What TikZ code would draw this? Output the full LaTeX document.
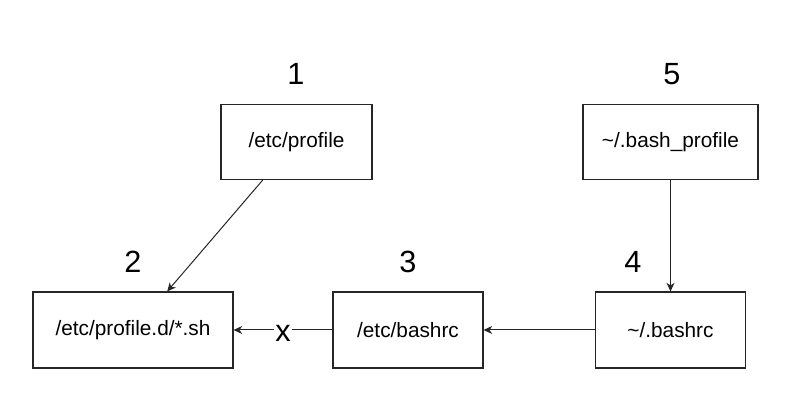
\documentclass[tikz,border=0pt]{standalone}
\usepackage{fontspec}
\setmainfont{Liberation Sans}
\usetikzlibrary{arrows.meta,calc}
\begin{document}
\begin{tikzpicture}[x=0.75pt,y=-0.75pt,
  filebox/.style={draw=black!85, line width=0.8pt, rectangle, inner sep=0pt,
    font=\fontsize{15.6pt}{18pt}\selectfont, text=black},
  numlabel/.style={anchor=base, inner sep=0pt, font=\fontsize{23pt}{27pt}\selectfont, text=black},
  conn/.style={draw=black!85, line width=0.75pt, -{Stealth[length=6.5pt,width=6pt,inset=2pt]}}
]
\useasboundingbox (0,0) rectangle (804,402);
% boxes
\node[filebox, minimum width=151*0.75pt, minimum height=75*0.75pt] (prof) at (296.5,142) {/etc/profile};
\node[filebox, minimum width=175*0.75pt, minimum height=75*0.75pt] (bprof) at (670.5,142) {\textasciitilde/.bash\_profile};
\node[filebox, minimum width=200*0.75pt, minimum height=76*0.75pt] (profd) at (133,330) {/etc/profile.d/*.sh};
\node[filebox, minimum width=150*0.75pt, minimum height=76*0.75pt] (bashrc) at (408,330) {/etc/bashrc};
\node[filebox, minimum width=150*0.75pt, minimum height=76*0.75pt] (ubashrc) at (670.5,330) {\textasciitilde/.bashrc};
% numbers
\node[numlabel] (n1) at (296,85) {1};
\node[numlabel] (n5) at (672,85) {5};
\node[numlabel] (n2) at (133,273) {2};
\node[numlabel] (n3) at (408,273) {3};
\node[numlabel] (n4) at (633,273) {4};
% connectors
\draw[conn] ($(prof.south west)!0.278!(prof.south east)$) -- ($(profd.north west)!0.67!(profd.north east)$);
\draw[conn] (bprof.south) -- (bprof.south |- ubashrc.north);
\draw[conn] (ubashrc.west) -- (bashrc.east);
\draw[conn] (bashrc.west) -- node[midway, fill=white, inner sep=1.2pt, yshift=-2.25pt,
  font=\fontsize{23pt}{27pt}\selectfont, text=black] (xlab) {x} (profd.east);
\end{tikzpicture}
\end{document}
